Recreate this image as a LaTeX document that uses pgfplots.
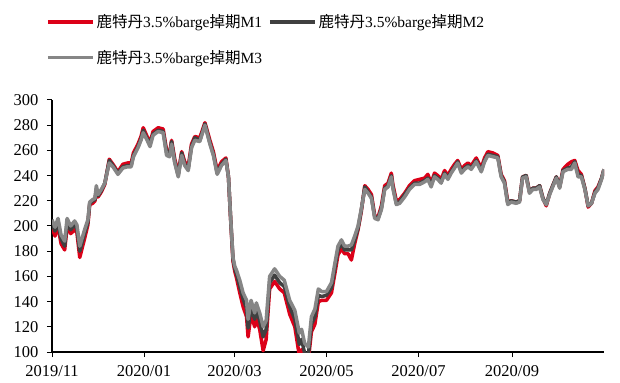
\documentclass[border=0pt]{standalone}
\usepackage{fontspec}
\setmainfont{Liberation Serif}
\newfontfamily\cjk{Noto Sans CJK SC}
\usepackage{pgfplots}
\usepackage{pgfplotstable}
\pgfplotsset{compat=1.18}

\definecolor{mred}{RGB}{220,0,24}
\definecolor{mdark}{RGB}{64,64,64}
\definecolor{mgray}{RGB}{134,134,134}

% day = days since 2019-11-01; m1/m2/m3 = swap prices for the three tenors
\pgfplotstableread{
day   m1  m2  m3
0     199 202 205
2     192 196 199
4     200 203 206
6     186 190 193
8.4   181 184 188
10    199 202 206
12.4  194 197 200
15    197 201 204
16.5  195 198 201
18.4  175 180 184
21.6  190 194 197
23.8  201 203 205
25    217 218 219
27    218 220 221
28.5  220 221 222
29.4  228 230 232
30.5  223 224 225
32.7  227 228 229
35    233 234 234
38    253 252 250
40.4  249 248 247
43.7  243 242 241
47    249 247 246
50    250 248 247
52.5  250 248 247
54    258 256 255
57    265 263 262
59    271 269 268
60.5  278 276 274
62.7  272 270 269
65    266 265 263
67    275 273 272
70.4  278 276 275
73.7  277 275 274
76    260 258 256
78    258 257 255
79.3  268 267 265
81.4  253 251 250
83.7  242 240 239
86    259 258 256
88    251 249 248
90.3  247 245 244
92.5  265 263 262
94.7  271 270 268
98    270 268 267
101.4 282 281 280
104.7 268 266 265
107   259 257 256
109.5 244 242 241
112.4 251 249 248
115.3 254 253 252
117   239 239 239
118.5 204 205 205
120   172 174 175
121.2 164 166 168
122.3 159 162 165
124.5 147 152 157
126.7 136 142 147
129   128 135 141
130   112 119 126
132   130 135 141
134.4 120 126 131
135.5 127 133 139
137.7 118 125 131
140   101 112 120
142   110 118 125
144.3 150 155 160
147.6 156 161 166
151   150 155 160
154   147 152 157
157.6 130 136 141
161   120 126 133
164   97  106 115
165.5 102 110 118
167.5 93  99  107
170   94  98  104
172   116 122 128
174.3 122 128 134
176.6 140 145 150
178.8 141 144 148
182   141 145 148
185.3 147 151 155
187.5 162 166 170
189.6 177 181 184
191.9 182 186 189
194   178 181 184
196.3 178 181 184
198.5 173 181 185
200.7 186 189 192
202.9 197 198 200
205   211 212 213
207.4 232 231 229
209.6 229 227 226
211.8 225 223 222
214   208 207 206
216.2 207 206 205
218.4 216 214 213
220.6 232 230 229
222.8 234 232 231
225   242 240 239
226   233 231 230
228.3 220 218 217
230.5 221 219 218
233.8 226 225 223
237   232 230 229
240.4 236 234 233
243.7 237 234 233
247   238 236 235
249.2 241 238 237
251.4 234 233 231
253.6 242 240 239
255.8 240 238 237
258   237 235 234
260.3 244 242 241
262.5 240 238 237
264.7 245 243 242
266.9 249 247 246
269   252 251 250
271.4 245 243 242
273.6 248 246 245
275.8 250 248 247
278   248 246 245
281.3 254 252 251
284.6 246 244 243
286.8 254 252 251
289   259 257 256
292.3 258 256 255
295.6 256 255 254
297.8 241 240 239
300   236 235 234
302.2 219 218 217
304.4 220 220 219
307.7 219 219 218
310   220 220 219
312   239 239 238
314.4 240 240 239
316.6 227 227 226
318.8 230 230 229
321   230 230 229
323.3 232 232 231
325.5 222 222 221
327.7 216 217 217
330   226 226 225
332   232 232 231
334.4 239 239 238
336.6 231 231 230
338.8 245 244 243
342   249 246 245
344.4 251 247 245
346.6 252 251 250
348.8 244 241 239
351   241 240 239
353.3 230 230 229
355.5 215 216 216
357.7 218 218 218
360   228 227 226
362   231 230 229
364.4 238 238 237
366   245 245 245
}\swaps

\begin{document}
\begin{tikzpicture}
\begin{axis}[
  scale only axis, width=552bp, height=252bp,
  at={(0,0)}, anchor=south west,
  xmin=0, xmax=366, ymin=100, ymax=300,
  axis x line*=bottom, axis y line*=left,
  axis line style={line width=1.1bp, black},
  xtick={0,61,121,182,243,305},
  xticklabels={2019/11,2020/01,2020/03,2020/05,2020/07,2020/09},
  ytick={100,120,...,300},
  tick align=outside, major tick length=5bp,
  tick style={line width=1bp, black},
  ticklabel style={font=\fontsize{16.5bp}{19bp}\selectfont},
  /pgf/number format/assume math mode=true,
  yticklabel style={xshift=-5bp},
  xticklabel style={yshift=-5bp},
  legend columns=2,
  legend cell align=left,
  legend style={at={(axis description cs:0,1)}, anchor=south west,
    xshift=-6bp, yshift=33bp, draw=none, fill=none, inner sep=0pt,
    row sep=17bp, font=\fontsize{15.5bp}{18bp}\selectfont,
    /tikz/every even column/.append style={column sep=4bp}},
  legend image code/.code={\draw[#1] (0bp,0bp) -- (45bp,0bp);},
  every axis plot/.append style={line width=3.5bp, line join=round},
]
\addplot[mred] table[x=day,y=m1]{\swaps};
\addlegendentry{{\cjk 鹿特丹}3.5\%barge{\cjk 掉期}M1}
\addplot[mdark] table[x=day,y=m2]{\swaps};
\addlegendentry{{\cjk 鹿特丹}3.5\%barge{\cjk 掉期}M2}
\addplot[mgray] table[x=day,y=m3]{\swaps};
\addlegendentry{{\cjk 鹿特丹}3.5\%barge{\cjk 掉期}M3}
\end{axis}
\pgfresetboundingbox
\useasboundingbox ([xshift=-52bp,yshift=-31bp]current axis.south west)
  rectangle ([xshift=16bp,yshift=100bp]current axis.north east);
\end{tikzpicture}
\end{document}
